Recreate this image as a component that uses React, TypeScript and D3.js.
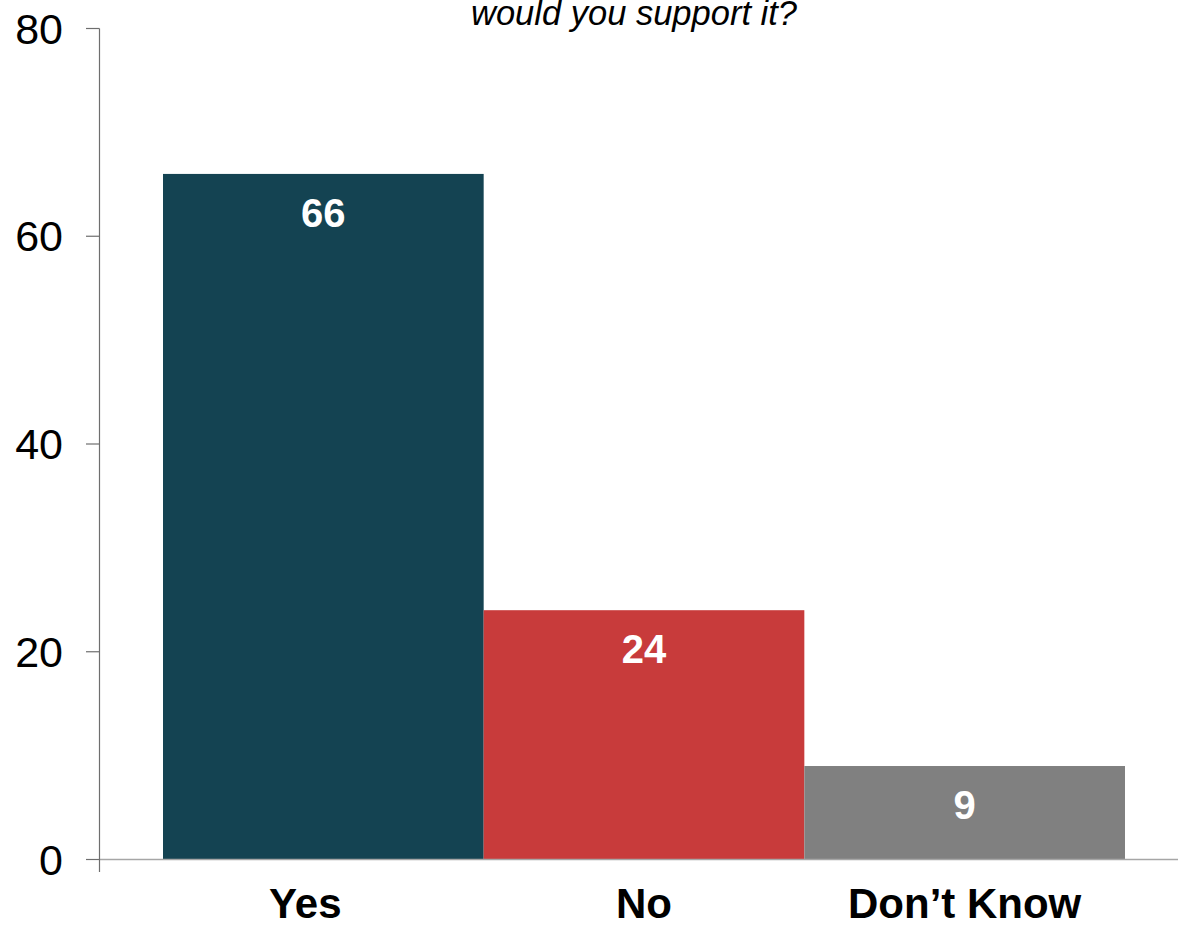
import React from "react";
import * as d3 from "d3";

const categories = ["Yes", "No", "Don’t Know"];
const values = [66, 24, 9];
const barColors = ["#144352", "#C83B3B", "#808080"];
const yTicks = [0, 20, 40, 60, 80];
const titleLine = "would you support it?";

const W = 1178;
const H = 926;

export default function App() {
  const x = d3.scaleBand<string>().domain(categories).range([163, 1125]).paddingInner(0).paddingOuter(0);
  const y = d3.scaleLinear().domain([0, 80]).range([859.5, 28.5]);
  const labelNudge: Record<string, number> = { Yes: -18 };

  return (
    <svg
      width={W}
      height={H}
      style={{ position: "absolute", left: 0, top: 0, display: "block", background: "#fff" }}
      fontFamily="Liberation Sans, Arial, sans-serif"
    >
      <text x={634} y={25} textAnchor="middle" fontStyle="italic" fontSize={34.5} fill="#000">
        {titleLine}
      </text>
      {categories.map((c, i) => (
        <rect
          key={c}
          x={x(c)!}
          y={y(values[i])}
          width={x.bandwidth()}
          height={y(0) - y(values[i])}
          fill={barColors[i]}
        />
      ))}
      {categories.map((c, i) => (
        <text
          key={"v" + c}
          x={x(c)! + x.bandwidth() / 2}
          y={y(values[i]) + 39}
          textAnchor="middle"
          dominantBaseline="central"
          fontWeight="bold"
          fontSize={40}
          fill="#fff"
        >
          {values[i]}
        </text>
      ))}
      {/* x baseline */}
      <line x1={99} x2={W} y1={y(0)} y2={y(0)} stroke="#A6A6A6" strokeWidth={1.5} />
      {/* y axis */}
      <line x1={99.5} x2={99.5} y1={y(80)} y2={872} stroke="#6E6E6E" strokeWidth={1.2} />
      {yTicks.map((t) => (
        <g key={t}>
          <line x1={86} x2={99.5} y1={y(t)} y2={y(t)} stroke="#6E6E6E" strokeWidth={1.2} />
          <text x={63} y={y(t)} textAnchor="end" dominantBaseline="central" fontSize={43} fill="#000">
            {t}
          </text>
        </g>
      ))}
      {categories.map((c) => (
        <text
          key={"x" + c}
          x={x(c)! + x.bandwidth() / 2 + (labelNudge[c] || 0)}
          y={903}
          textAnchor="middle"
          dominantBaseline="central"
          fontWeight="bold"
          fontSize={42}
          fill="#000"
        >
          {c}
        </text>
      ))}
    </svg>
  );
}
